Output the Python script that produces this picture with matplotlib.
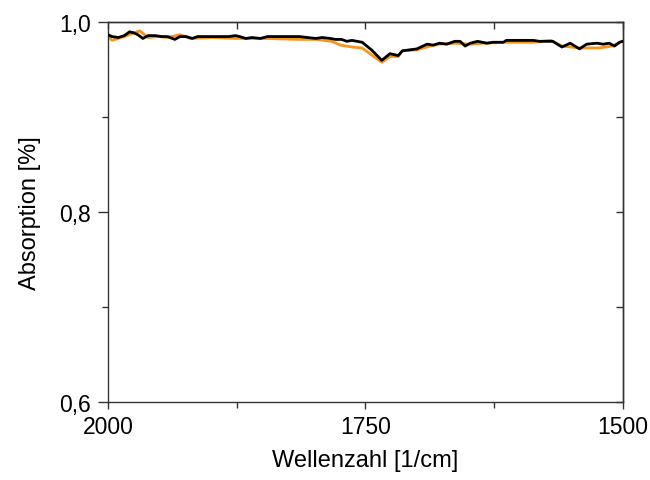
import matplotlib
matplotlib.use("Agg")
import matplotlib.pyplot as plt
from matplotlib.ticker import FixedLocator, FuncFormatter

plt.rcParams['font.family'] = ['Liberation Sans', 'DejaVu Sans']

# Wavenumber (1/cm) and absorption for the two spectra
wn_black = [2000, 1996, 1990, 1984, 1979, 1975, 1971, 1966, 1961, 1954,
            1948, 1942, 1935, 1930, 1924, 1918, 1913, 1906, 1899, 1891,
            1883, 1876, 1872, 1866, 1860, 1852, 1845, 1837, 1829, 1821,
            1814, 1806, 1798, 1792, 1784, 1779, 1773, 1768, 1763, 1758,
            1753, 1744, 1734, 1726, 1718, 1714, 1707, 1700, 1690, 1684,
            1678, 1671, 1663, 1658, 1653, 1648, 1641, 1632, 1626, 1616,
            1613, 1600, 1587, 1581, 1568, 1559, 1551, 1542, 1535, 1525,
            1519, 1513, 1508, 1503, 1500]
abs_black = [0.987, 0.985, 0.984, 0.986, 0.990, 0.989, 0.987, 0.983, 0.986, 0.986,
             0.985, 0.985, 0.982, 0.985, 0.985, 0.983, 0.985, 0.985, 0.985, 0.985,
             0.985, 0.986, 0.985, 0.983, 0.984, 0.983, 0.985, 0.985, 0.985, 0.985,
             0.985, 0.984, 0.983, 0.984, 0.983, 0.982, 0.982, 0.980, 0.981, 0.980,
             0.979, 0.971, 0.960, 0.967, 0.965, 0.970, 0.971, 0.972, 0.977, 0.976,
             0.978, 0.977, 0.980, 0.980, 0.975, 0.978, 0.980, 0.978, 0.979, 0.979,
             0.981, 0.981, 0.981, 0.980, 0.980, 0.974, 0.978, 0.972, 0.977, 0.978,
             0.977, 0.978, 0.975, 0.979, 0.980]

wn_orange = [2000, 1996, 1990, 1984, 1977, 1969, 1961, 1951, 1942, 1930,
             1920, 1899, 1876, 1845, 1814, 1798, 1783, 1774, 1763, 1753,
             1743, 1734, 1726, 1718, 1714, 1700, 1687, 1678, 1663, 1648,
             1636, 1613, 1587, 1570, 1559, 1542, 1523, 1510, 1503, 1500]
abs_orange = [0.986, 0.981, 0.983, 0.985, 0.988, 0.991, 0.984, 0.985, 0.984, 0.987,
              0.983, 0.984, 0.983, 0.983, 0.982, 0.982, 0.980, 0.976, 0.974, 0.973,
              0.965, 0.958, 0.964, 0.964, 0.970, 0.971, 0.975, 0.977, 0.978, 0.977,
              0.978, 0.979, 0.979, 0.981, 0.975, 0.973, 0.973, 0.975, 0.979, 0.980]

x_major = [2000, 1750, 1500]
x_minor = [1875, 1625]
y_major = [0.6, 0.8, 1.0]
y_minor = [0.7, 0.9]

fig = plt.figure(figsize=(6.5, 4.81), dpi=100)
ax = fig.add_axes([0.166, 0.162, 0.792, 0.7895])

ax.plot(wn_orange, abs_orange, color='#f7941d', lw=2.0, zorder=2)
ax.plot(wn_black, abs_black, color='black', lw=2.0, zorder=3)

ax.set_xlim(2000, 1500)
ax.set_ylim(0.6, 1.0)

ax.xaxis.set_major_locator(FixedLocator(x_major))
ax.xaxis.set_minor_locator(FixedLocator(x_minor))
ax.yaxis.set_major_locator(FixedLocator(y_major))
ax.yaxis.set_minor_locator(FixedLocator(y_minor))
ax.yaxis.set_major_formatter(FuncFormatter(lambda v, p: f"{v:.1f}".replace('.', ',')))
ax.xaxis.set_major_formatter(FuncFormatter(lambda v, p: f"{v:.0f}"))

edge = '#333333'
for s in ax.spines.values():
    s.set_linewidth(1.0)
    s.set_color(edge)

ax.tick_params(axis='both', which='both', color=edge, width=1.0,
               labelsize=16.5, labelcolor='black', top=False, right=False,
               direction='out')
ax.tick_params(axis='y', which='major', length=7, pad=5)
ax.tick_params(axis='y', which='minor', length=4)
ax.tick_params(axis='x', which='major', length=5, pad=4.5)
ax.tick_params(axis='x', which='minor', length=4)

# inward ticks mirrored on the top and right edges
sec_x = ax.secondary_xaxis('top')
sec_x.xaxis.set_major_locator(FixedLocator(x_major))
sec_x.xaxis.set_minor_locator(FixedLocator(x_minor))
sec_x.tick_params(which='both', direction='in', length=5, labeltop=False,
                  color=edge, width=1.0)
sec_y = ax.secondary_yaxis('right')
sec_y.yaxis.set_major_locator(FixedLocator(y_major))
sec_y.yaxis.set_minor_locator(FixedLocator(y_minor))
sec_y.tick_params(which='both', direction='in', length=5, labelright=False,
                  color=edge, width=1.0)
for sec in (sec_x, sec_y):
    for s in sec.spines.values():
        s.set_linewidth(1.0)
        s.set_color(edge)

ax.set_xlabel('Wellenzahl [1/cm]', fontsize=17, labelpad=8)
ax.set_ylabel('Absorption [%]', fontsize=17, labelpad=13)

fig.savefig('out.png', dpi=100)
